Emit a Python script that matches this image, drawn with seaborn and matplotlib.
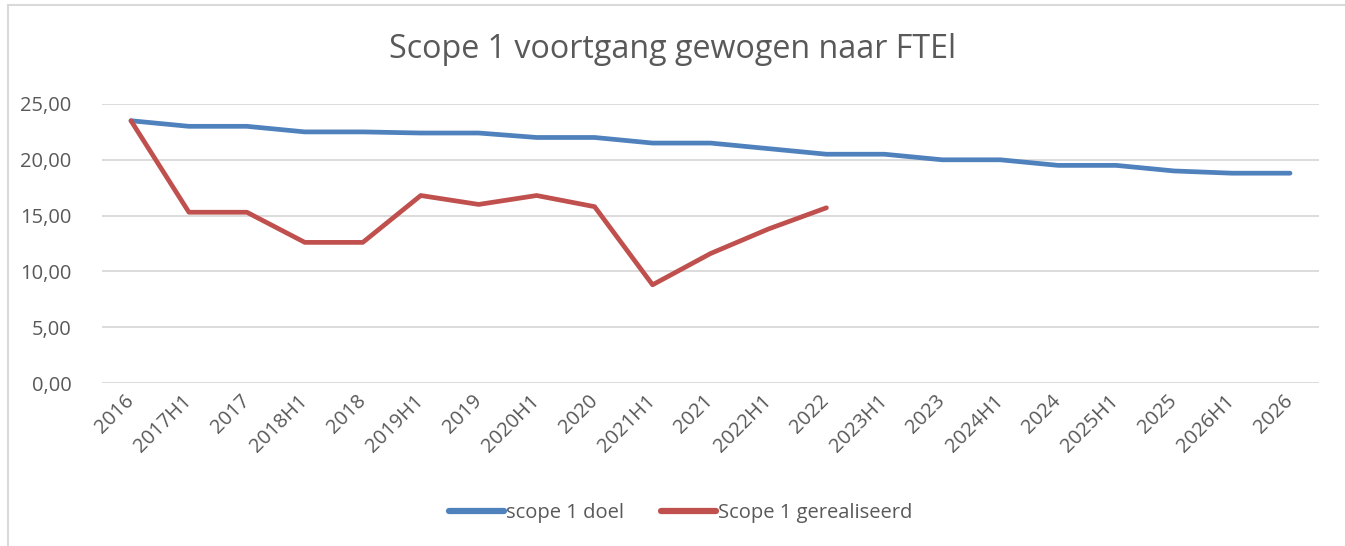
import matplotlib
matplotlib.use("Agg")
import matplotlib.pyplot as plt
import seaborn as sns
import pandas as pd
import numpy as np
from matplotlib.lines import Line2D

categories = ["2016", "2017H1", "2017", "2018H1", "2018", "2019H1", "2019",
              "2020H1", "2020", "2021H1", "2021", "2022H1", "2022", "2023H1",
              "2023", "2024H1", "2024", "2025H1", "2025", "2026H1", "2026"]
doel = [23.5, 23.0, 23.0, 22.5, 22.5, 22.4, 22.4, 22.0, 22.0, 21.5, 21.5,
        21.0, 20.5, 20.5, 20.0, 20.0, 19.5, 19.5, 19.0, 18.8, 18.8]
gerealiseerd = [23.5, 15.3, 15.3, 12.6, 12.6, 16.8, 16.0, 16.8, 15.8, 8.8,
                11.6, 13.8, 15.7]
series_names = ["scope 1 doel", "Scope 1 gerealiseerd"]
title = "Scope 1 voortgang gewogen naar FTEl"
yticks = [0, 5, 10, 15, 20, 25]

sns.set_theme(style="white")
plt.rcParams["font.family"] = ["Open Sans", "DejaVu Sans"]
TXT = "#595959"
colors = {series_names[0]: "#4F81BD", series_names[1]: "#C0504D"}

rows = []
for i, v in enumerate(doel):
    rows.append({"pos": i, "value": v, "series": series_names[0]})
for i, v in enumerate(gerealiseerd):
    rows.append({"pos": i, "value": v, "series": series_names[1]})
df = pd.DataFrame(rows)

fig = plt.figure(figsize=(13.45, 5.46), dpi=100)
ax = fig.add_axes([102/1345, 1-383/546, (1319-102)/1345, (383-104)/546])

for y in yticks:
    ax.axhline(y, color="#D9D9D9", lw=1.3, zorder=0)

sns.lineplot(data=df, x="pos", y="value", hue="series", palette=colors,
             linewidth=3.4, ax=ax, legend=False, sort=False, zorder=3)
for ln in ax.get_lines():
    ln.set_solid_capstyle("round")
    ln.set_solid_joinstyle("round")

ax.set_xlim(-0.5, len(categories) - 0.5)
ax.set_ylim(0, 25)
ax.set_yticks(yticks)
ax.set_yticklabels([f"{t:.2f}".replace(".", ",") for t in yticks],
                   color=TXT, fontsize=14.5)
ax.set_xticks(range(len(categories)))
ax.set_xticklabels(categories, rotation=45, ha="right", va="center",
                   rotation_mode="anchor", color=TXT, fontsize=14.5)
ax.tick_params(axis="x", pad=11, length=0)
ax.tick_params(axis="y", pad=22, length=0)
for s in ax.spines.values():
    s.set_visible(False)
ax.set_xlabel("")
ax.set_ylabel("")

fig.text(0.5, 1-50/546, title, ha="center", va="center", color=TXT,
         fontsize=23.2)

handles = [Line2D([0], [0], color=colors[n], lw=4.5, solid_capstyle="round")
           for n in series_names]
fig.legend(handles, series_names, loc="center", bbox_to_anchor=(0.506, 1-513/546),
           ncol=2, frameon=False, fontsize=14.5, labelcolor=TXT,
           handlelength=2.75, handletextpad=0.1, columnspacing=1.8)

# chart border
fig.add_artist(Line2D([8/1345, 1], [1-5/546, 1-5/546], color="#D9D9D9", lw=1.5,
                      transform=fig.transFigure))
fig.add_artist(Line2D([8/1345, 8/1345], [0, 1-5/546], color="#D9D9D9", lw=1.5,
                      transform=fig.transFigure))

fig.savefig("out.png", dpi=100)
